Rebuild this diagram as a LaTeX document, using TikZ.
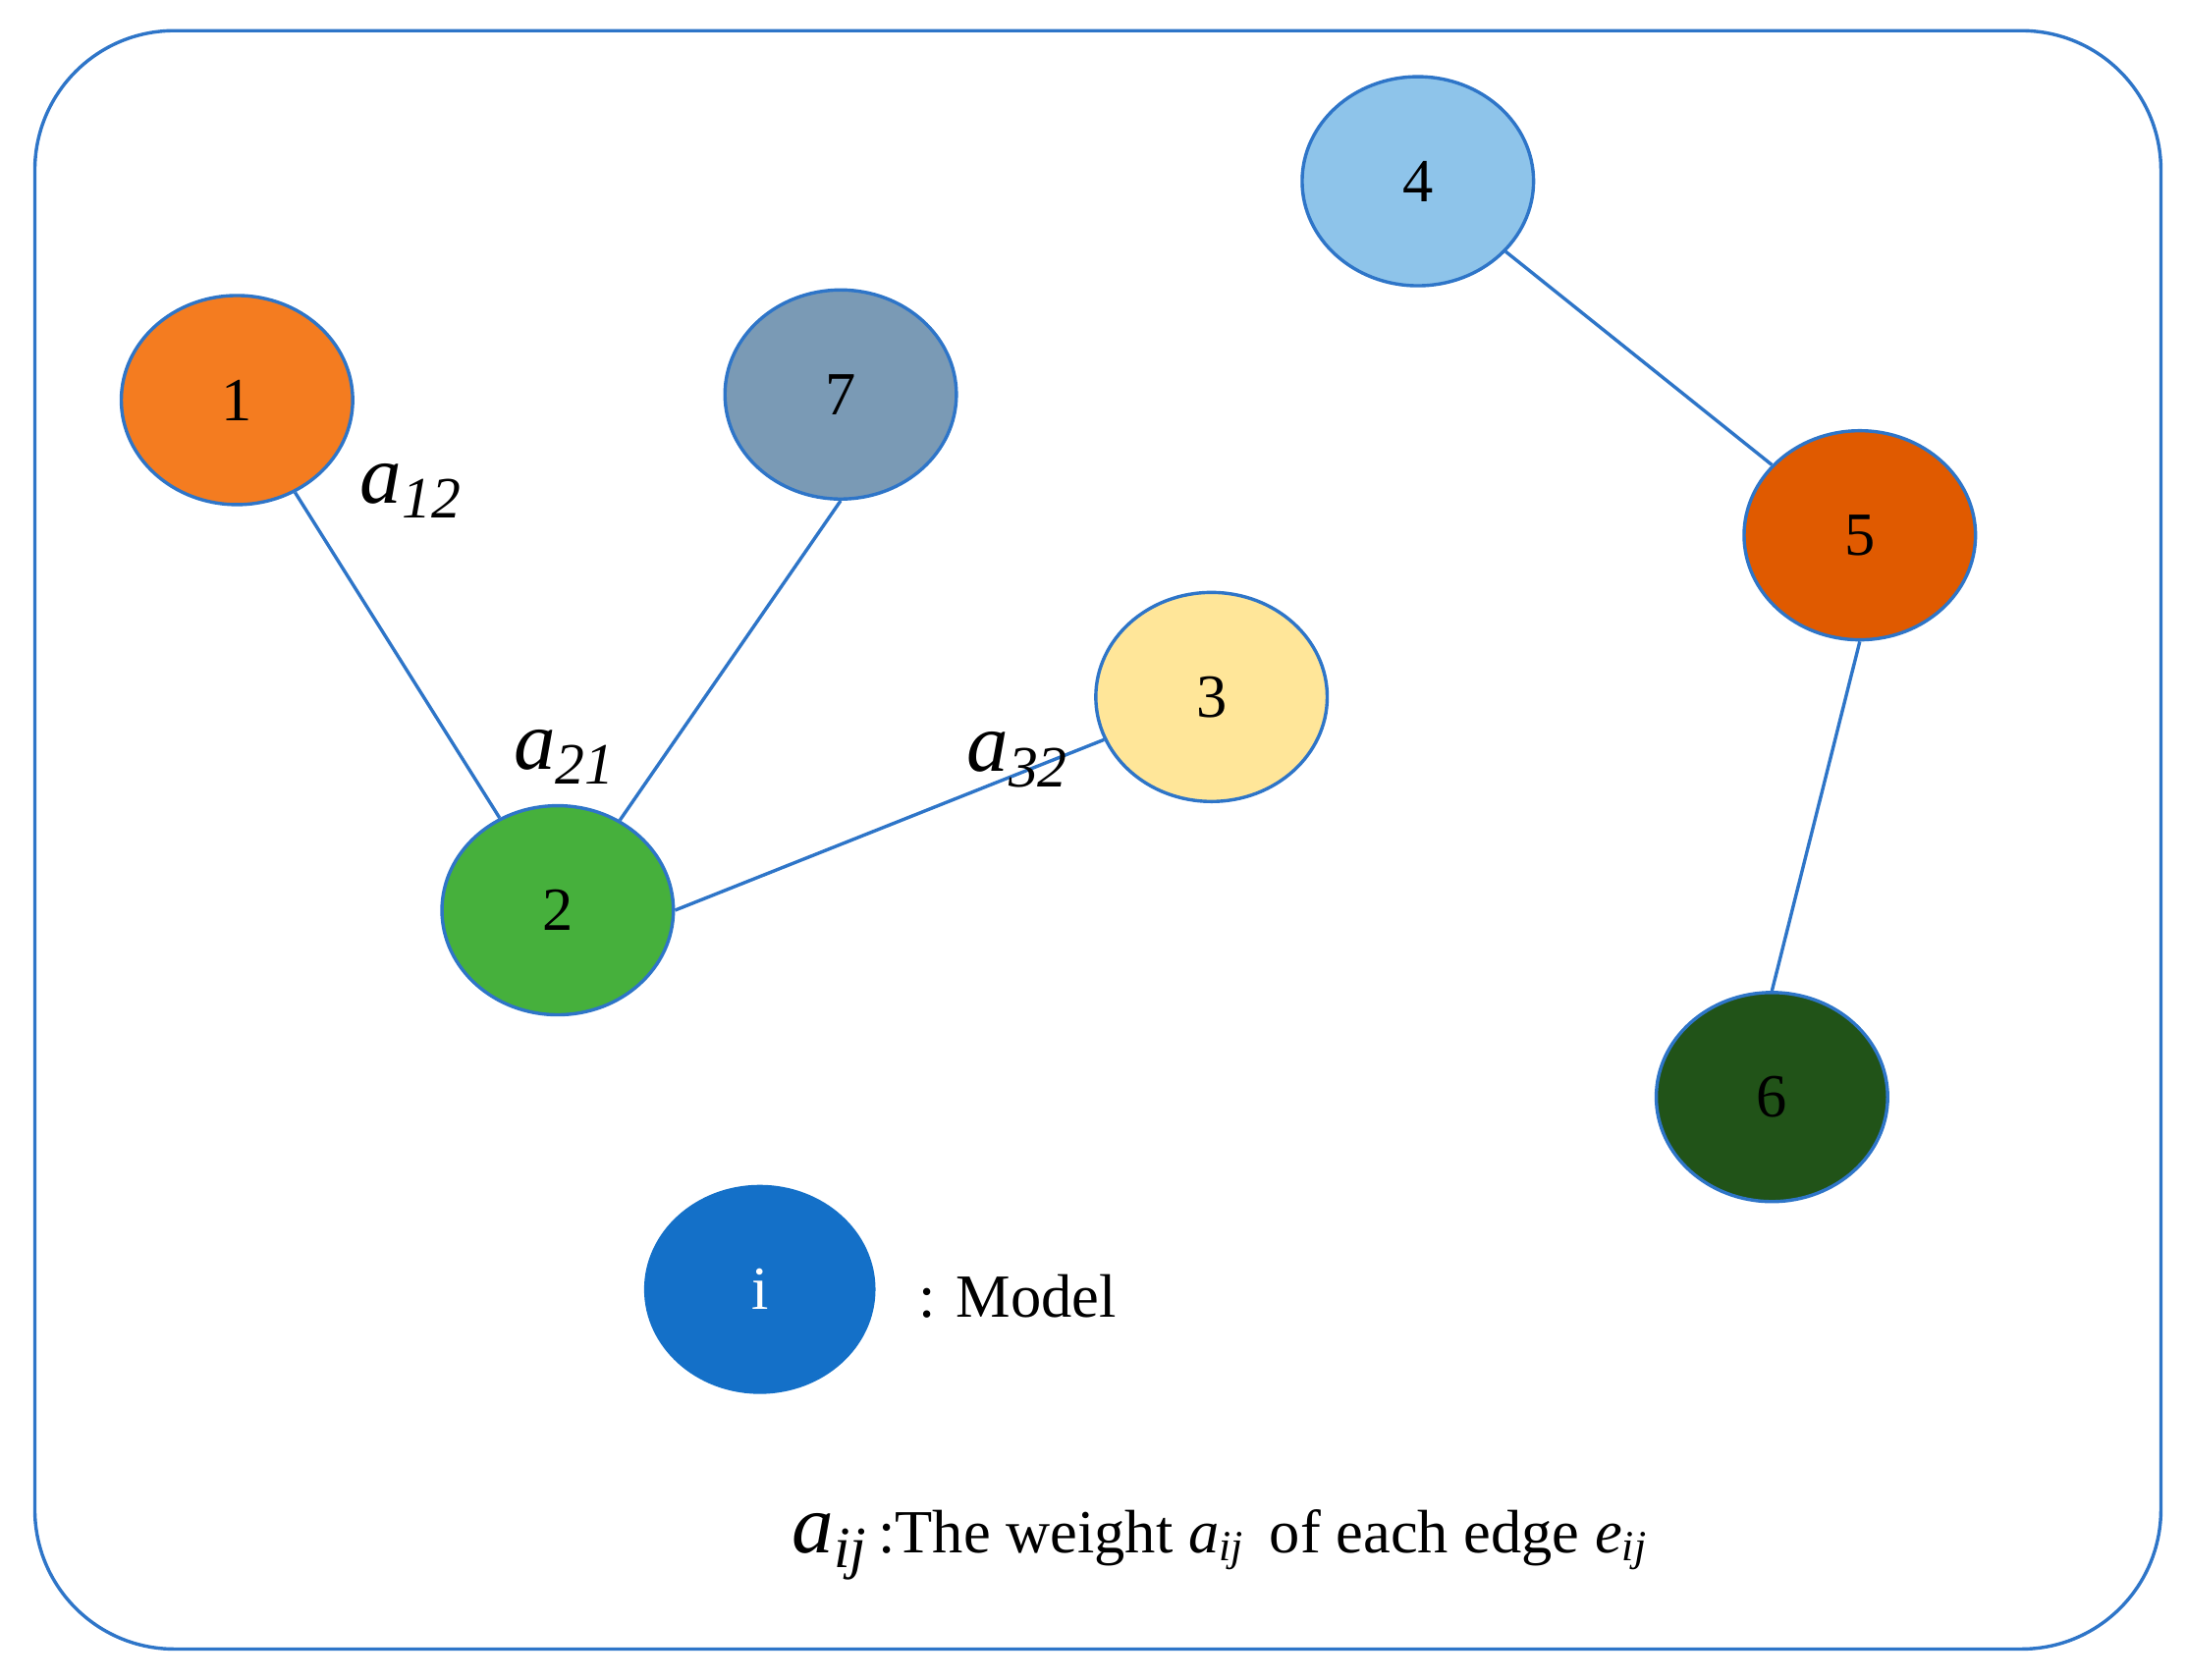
\documentclass[tikz,border=0pt]{standalone}
\usepackage{fontspec}
\setmainfont{Liberation Serif}
\usetikzlibrary{shapes.geometric}
\definecolor{edge}{HTML}{2E75C8}
\begin{document}
\begin{tikzpicture}[x=0.5pt,y=-0.5pt,
  nd/.style={ellipse,draw=edge,line width=1.2pt,minimum width=83pt,minimum height=75pt,inner sep=0pt,font=\fontsize{22}{22}\selectfont},
  ln/.style={draw=edge,line width=1.2pt},
  lab/.style={font=\fontsize{30}{30}\selectfont\itshape}]
\useasboundingbox (0,0) rectangle (1568,1205);
\draw[edge,line width=1.2pt,rounded corners=50pt] (25,22) rectangle (1550,1183);
\node[nd,fill={rgb,255:red,244;green,124;blue,32}] (n1) at (170,287) {1};
\node[nd,fill={rgb,255:red,122;green,154;blue,181}] (n7) at (603,283) {7};
\node[nd,fill={rgb,255:red,142;green,196;blue,234}] (n4) at (1017,130) {4};
\node[nd,fill={rgb,255:red,224;green,90;blue,0}] (n5) at (1334,384) {5};
\node[nd,fill={rgb,255:red,255;green,230;blue,153}] (n3) at (869,500) {3};
\node[nd,fill={rgb,255:red,70;green,176;blue,60}] (n2) at (400,653) {2};
\node[nd,fill={rgb,255:red,33;green,83;blue,24}] (n6) at (1271,787) {6};
\node[nd,draw=none,fill={rgb,255:red,20;green,112;blue,200},text=white] (ni) at (545,925) {i};
\draw[ln] (n1) -- (n2);
\draw[ln] (n7.south) -- (n2);
\draw[ln] (n2.east) -- (n3);
\draw[ln] (n4) -- (n5);
\draw[ln] (n5.south) -- (n6.north);
\node[lab] (l12) at (295,352) {a\textsubscript{12}};
\node[lab] (l21) at (405,543) {a\textsubscript{21}};
\node[lab] (l32) at (730,545) {a\textsubscript{32}};
\node[font=\fontsize{22}{22}\selectfont,anchor=west] (model) at (652,930) {: Model};
\node[font=\fontsize{22}{22}\selectfont] (leg) at (875,1108) {{\fontsize{30}{30}\selectfont\itshape a\textsubscript{ij}}\,:The weight \textit{a\textsubscript{ij}}\, of each edge \textit{e\textsubscript{ij}}};
\end{tikzpicture}
\end{document}
